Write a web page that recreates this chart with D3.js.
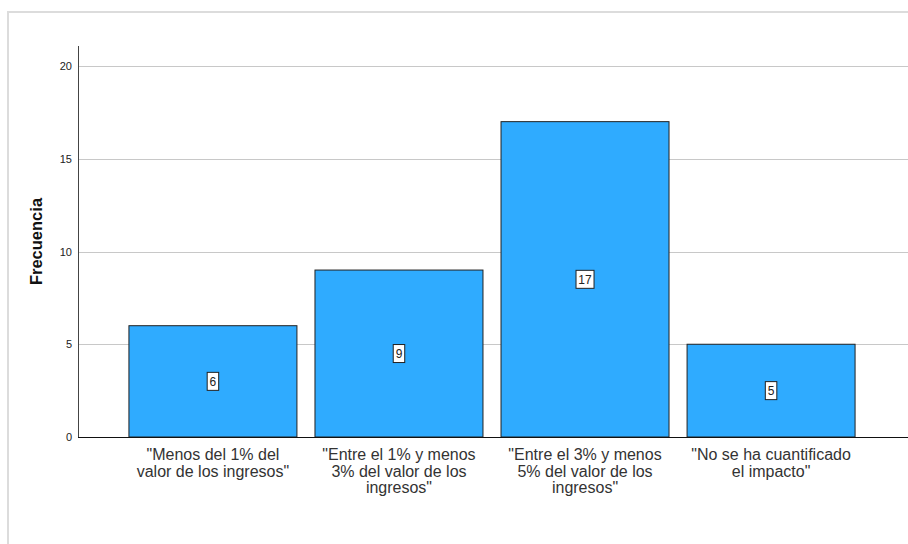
<!DOCTYPE html>
<html>
<head>
<meta charset="utf-8">
<script src="https://cdn.jsdelivr.net/npm/d3@7/dist/d3.min.js"></script>
<style>
  html, body { margin: 0; padding: 0; background: #fff; }
  svg { display: block; font-family: Arial, "Liberation Sans", sans-serif; }
</style>
</head>
<body>
<svg id="chart" width="908" height="544"></svg>
<script>
// Frequency of each category
const categories = [
  ["\"Menos del 1% del", "valor de los ingresos\""],
  ["\"Entre el 1% y menos", "3% del valor de los", "ingresos\""],
  ["\"Entre el 3% y menos", "5% del valor de los", "ingresos\""],
  ["\"No se ha cuantificado", "el impacto\""]
];
const values = [6, 9, 17, 5];
const yTicks = [0, 5, 10, 15, 20];

const svg = d3.select("#chart");
const W = 908, H = 544;

// outer frame
svg.append("rect")
  .attr("x", 8).attr("y", 12)
  .attr("width", W).attr("height", H)
  .attr("fill", "#fff")
  .attr("stroke", "#dcdcdc").attr("stroke-width", 2);

const axisX = 78, right = W, y0 = 437, yTop = 46;

const y = d3.scaleLinear().domain([0, 20]).range([y0, 66]);
const x = d3.scaleBand()
  .domain(d3.range(categories.length))
  .range([120, 864])
  .paddingInner(0.097)
  .paddingOuter(0.048);

// gridlines
svg.append("g")
  .selectAll("line")
  .data(yTicks.filter(t => t > 0))
  .join("line")
  .attr("x1", axisX).attr("x2", right)
  .attr("y1", d => Math.round(y(d)) + 0.5)
  .attr("y2", d => Math.round(y(d)) + 0.5)
  .attr("stroke", "#c8c8c8").attr("stroke-width", 1);

// bars
svg.append("g")
  .selectAll("rect")
  .data(values)
  .join("rect")
  .attr("x", (d, i) => x(i))
  .attr("y", d => y(d))
  .attr("width", x.bandwidth())
  .attr("height", d => y0 - y(d))
  .attr("fill", "#2fabff")
  .attr("stroke", "#222")
  .attr("stroke-width", 1);

// y axis
const yAxis = svg.append("g")
  .attr("transform", `translate(${axisX},0)`)
  .call(d3.axisLeft(y).tickValues(yTicks).tickSize(0).tickPadding(6).tickFormat(d3.format("d")));
yAxis.select(".domain").remove();
yAxis.selectAll("text").attr("font-size", 11).attr("fill", "#222")
  .attr("font-family", "Arial, 'Liberation Sans', sans-serif");
svg.append("line")
  .attr("x1", axisX + 0.5).attr("x2", axisX + 0.5)
  .attr("y1", yTop).attr("y2", y0)
  .attr("stroke", "#444").attr("stroke-width", 1);

// x axis baseline
svg.append("line")
  .attr("x1", axisX).attr("x2", right)
  .attr("y1", y0 + 0.5).attr("y2", y0 + 0.5)
  .attr("stroke", "#111").attr("stroke-width", 1.2);

// value labels
const lab = svg.append("g")
  .selectAll("g")
  .data(values)
  .join("g")
  .attr("transform", (d, i) => `translate(${x(i) + x.bandwidth() / 2},${y(d / 2)})`);
lab.each(function(d) {
  const g = d3.select(this);
  const t = String(d);
  const w = 6.5 * t.length + 5;
  g.append("rect")
    .attr("x", -w / 2).attr("y", -9)
    .attr("width", w).attr("height", 18)
    .attr("fill", "#fff").attr("stroke", "#222").attr("stroke-width", 1);
  g.append("text")
    .attr("text-anchor", "middle").attr("dy", "0.36em")
    .attr("font-size", 12).attr("fill", "#222")
    .text(t);
});

// category labels
svg.append("g")
  .selectAll("text")
  .data(categories)
  .join("text")
  .attr("x", (d, i) => x(i) + x.bandwidth() / 2)
  .attr("y", 460)
  .attr("text-anchor", "middle")
  .attr("font-size", 16)
  .attr("fill", "#333")
  .each(function(lines) {
    const t = d3.select(this);
    const cx = t.attr("x");
    lines.forEach((ln, k) => {
      t.append("tspan").attr("x", cx).attr("dy", k === 0 ? 0 : 16.5).text(ln);
    });
  });

// y axis title
svg.append("text")
  .attr("transform", `translate(42,${(yTop + y0) / 2}) rotate(-90)`)
  .attr("text-anchor", "middle")
  .attr("font-size", 16.5)
  .attr("font-weight", "bold")
  .attr("fill", "#111")
  .text("Frecuencia");
</script>
</body>
</html>
